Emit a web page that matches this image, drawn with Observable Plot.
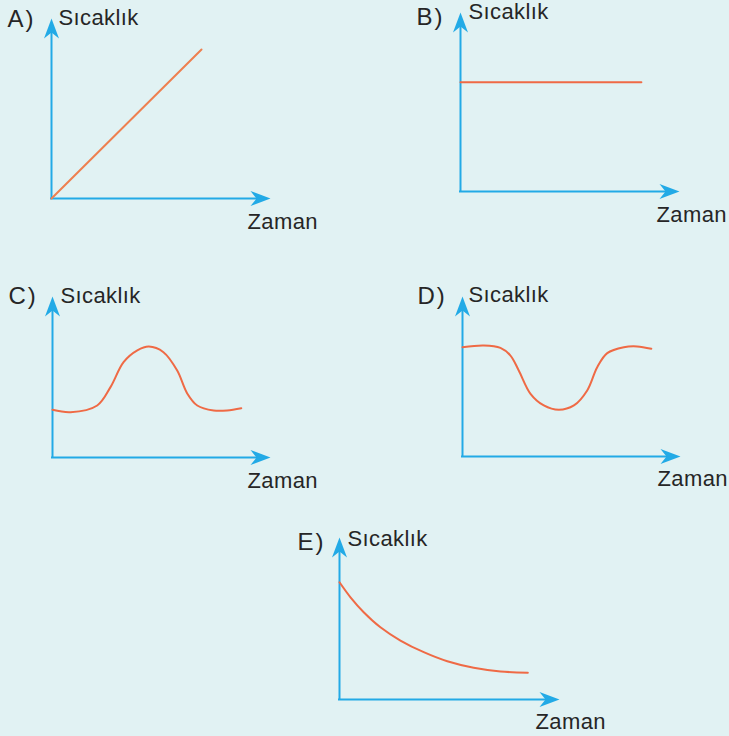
<!DOCTYPE html>
<html><head><meta charset="utf-8">
<script src="https://cdn.jsdelivr.net/npm/d3@7"></script>
<script src="https://cdn.jsdelivr.net/npm/@observablehq/plot@0.6"></script>
<style>
html,body{margin:0;padding:0;background:#e1f2f3;}
#chart{position:relative;width:729px;height:736px;background:#e1f2f3;overflow:hidden;}
#chart svg{position:absolute;left:0;top:0;}
#chart svg text{letter-spacing:0.4px;}
#chart svg text.panel-letter{letter-spacing:2px;}
</style></head><body><div id="chart"></div>
<script>
// ---- data ----
const panelLabels = ["A)", "B)", "C)", "D)", "E)"];
const yAxisLabel = "Sıcaklık";
const xAxisLabel = "Zaman";

const timeA = [0, 68.5];
const tempA = [0, 82.8];

const timeB = [0, 82.6];
const tempB = [61, 61];

const timeC = [0, 8.3, 20.5, 26.6, 32.6, 38.9, 44.2, 50.9, 57.2, 61.8, 66.4, 73.9, 80.1, 86.6];
const tempC = [29.6, 28.1, 32.3, 43.7, 59.2, 66.5, 68.9, 65.4, 54.0, 39.8, 32.3, 29.2, 29.2, 30.6];

const timeD = [0, 9.8, 17.4, 22.0, 25.8, 31.2, 37.3, 44.2, 51.1, 57.2, 61.8, 66.4, 74.0, 80.1, 86.6];
const tempD = [68.3, 69.4, 67.9, 63.1, 53.8, 39.2, 31.9, 29.2, 31.9, 41.3, 55.8, 64.6, 68.3, 68.8, 67.3];

const timeE = [0, 5.0, 11.0, 18.6, 27.7, 38.3, 49.0, 61.0, 73.2, 85.6];
const tempE = [72.4, 63.1, 53.9, 44.6, 36.4, 29.2, 23.6, 19.6, 17.3, 16.5];

// ---- layout / style ----
const BLUE = "#22aae6";
const TEXT = "#262626";
const FONT = "Liberation Sans, Arial, sans-serif";
const W = 729, H = 736;

const panels = [
  {time: timeA, temp: tempA, color: "#ee8050", ox: 51,  oy: 198, tx: 270, ty: 18,  letter: [7, 26],    ylab: [58, 24],   xlab: [247, 228]},
  {time: timeB, temp: tempB, color: "#ef6a45", ox: 460, oy: 191, tx: 679, ty: 12,  letter: [416, 24],  ylab: [468, 18],  xlab: [656, 221]},
  {time: timeC, temp: tempC, color: "#ef6a45", ox: 52,  oy: 457, tx: 270, ty: 296, letter: [8, 303],   ylab: [60, 302],  xlab: [247, 487]},
  {time: timeD, temp: tempD, color: "#ef6a45", ox: 462, oy: 456, tx: 680, ty: 296, letter: [417, 303], ylab: [468, 301], xlab: [657, 485]},
  {time: timeE, temp: tempE, color: "#ef6a45", ox: 339, oy: 699, tx: 559, ty: 537, letter: [297, 549], ylab: [347, 545], xlab: [535, 728]}
];

// filled arrowheads with a notch, tip at the anchor point
const headUp = {draw(ctx) { ctx.moveTo(0, 0); ctx.lineTo(7.5, 20); ctx.lineTo(0, 14); ctx.lineTo(-7.5, 20); ctx.closePath(); }};
const headRight = {draw(ctx) { ctx.moveTo(0, 0); ctx.lineTo(-20, -7.5); ctx.lineTo(-14, 0); ctx.lineTo(-20, 7.5); ctx.closePath(); }};

const chart = document.getElementById("chart");

panels.forEach((p, i) => {
  const rows = p.time.map((t, j) => ({t, v: p.temp[j]}));
  const label = (str, pos, size) => Plot.text([str], {
    frameAnchor: "top-left", dx: pos[0] - p.ox, dy: pos[1] - p.ty,
    text: d => d, textAnchor: "start", lineAnchor: "bottom",
    fontSize: size, fontFamily: FONT, fill: TEXT
  });
  const svg = Plot.plot({
    width: W, height: H,
    marginLeft: p.ox, marginRight: W - p.tx, marginTop: p.ty, marginBottom: H - p.oy,
    style: {background: "transparent", overflow: "visible"},
    x: {axis: null, domain: [0, 100]},
    y: {axis: null, domain: [0, 100]},
    marks: [
      Plot.ruleY([0], {x1: 0, x2: 94, stroke: BLUE, strokeWidth: 2, strokeLinecap: "square"}),
      Plot.ruleX([0], {y1: 0, y2: 92, stroke: BLUE, strokeWidth: 2, strokeLinecap: "square"}),
      Plot.dot([0], {x: 100, y: 0, symbol: headRight, fill: BLUE}),
      Plot.dot([0], {x: 0, y: 100, symbol: headUp, fill: BLUE}),
      Plot.line(rows, {x: "t", y: "v", stroke: p.color, strokeWidth: 2, curve: "catmull-rom"}),
      label(panelLabels[i], p.letter, 24),
      label(yAxisLabel, p.ylab, 22),
      label(xAxisLabel, p.xlab, 22)
    ]
  });
  svg.querySelectorAll("text").forEach(t => {
    if (panelLabels.includes(t.textContent)) t.classList.add("panel-letter");
  });
  chart.appendChild(svg);
});
</script>
</body></html>
